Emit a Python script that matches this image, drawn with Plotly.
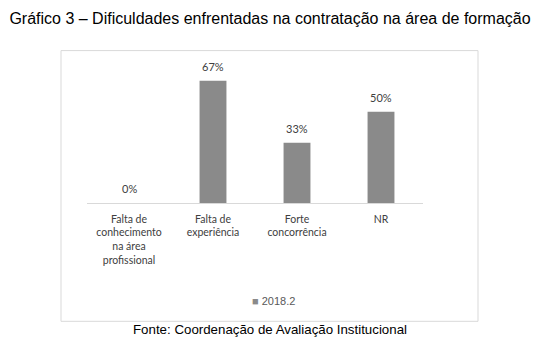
import plotly.graph_objects as go

categories = ["Falta de<br>conhecimento<br>na área<br>profissional", "Falta de<br>experiência", "Forte<br>concorrência", "NR"]
values = [0, 67, 33, 50]
labels = ["0%", "67%", "33%", "50%"]
series_name = "2018.2"
title_text = "Gráfico 3 – Dificuldades enfrentadas na contratação na área de formação"
source_text = "Fonte: Coordenação de Avaliação Institucional"

W, H = 540, 361
OFF = 8  # page body margin
L, R = 87 - OFF, 423 - OFF
BASE, TOP = 203 - OFF, 57.4 - OFF
pw, ph = R - L, BASE - TOP

def px_x(p):
    return (p - OFF - L) / pw

def px_y(p):
    return (BASE - (p - OFF)) / ph

BAR_COLOR = "#8a8a8a"
CHART_FONT = "Lato, Carlito, sans-serif"

fig = go.Figure()
fig.add_trace(go.Bar(
    x=categories, y=values, name=series_name,
    marker=dict(color=BAR_COLOR, line=dict(width=0)),
    showlegend=False,
))

annotations = []
for c, v, t in zip(categories, values, labels):
    annotations.append(dict(x=c, y=v, xref="x", yref="y", text=t, showarrow=False,
                            xanchor="center", yanchor="bottom", yshift=6,
                            font=dict(family=CHART_FONT, size=11, color="#404040")))

annotations += [
    dict(text=source_text, xref="paper", yref="paper", x=px_x(270), y=px_y(329),
         xanchor="center", yanchor="middle", showarrow=False,
         font=dict(family="Liberation Sans, Arial, sans-serif", size=13.3, color="#000000")),
    dict(text=f"<span style='color:{BAR_COLOR}'>■</span> {series_name}", xref="paper", yref="paper",
         x=px_x(250), y=px_y(301), xanchor="left", yanchor="middle", showarrow=False,
         font=dict(family="Liberation Sans, Arial, sans-serif", size=11, color="#595959")),
]

fig.update_layout(
    width=W, height=H,
    margin=dict(l=L, r=W - R, t=TOP, b=H - BASE, autoexpand=False),
    paper_bgcolor="white", plot_bgcolor="white",
    bargap=0.68,
    title=dict(text=title_text, x=(270 - OFF) / W, xanchor="center", y=1 - (18 - OFF) / H, yanchor="middle",
               font=dict(family="Liberation Sans, Arial, sans-serif", size=16, color="#000000")),
    xaxis=dict(showline=True, linecolor="#d9d9d9", linewidth=1, ticks="", showgrid=False,
               tickfont=dict(family=CHART_FONT, size=10.5, color="#404040"),
               ticklabelstandoff=6, fixedrange=True),
    yaxis=dict(range=[0, 80], visible=False, showgrid=False, zeroline=False),
    shapes=[dict(type="rect", xref="paper", yref="paper",
                 x0=px_x(61), x1=px_x(478), y0=px_y(321), y1=px_y(51),
                 line=dict(color="#d9d9d9", width=1), layer="below")],
    annotations=annotations,
)

fig.write_html("out.html")
